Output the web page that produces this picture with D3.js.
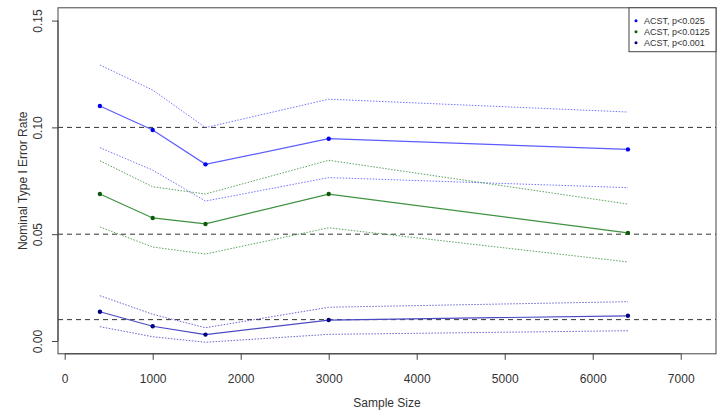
<!DOCTYPE html>
<html>
<head>
<meta charset="utf-8">
<script src="https://cdn.jsdelivr.net/npm/d3@7"></script>
<style>
  html, body { margin: 0; padding: 0; background: #fff; }
  svg text { font-family: "Liberation Sans", Arial, sans-serif; fill: #333; }
</style>
</head>
<body>
<svg id="chart" width="724" height="418"></svg>
<script>
// ---- data ----
const sampleSizes = [400, 1000, 1600, 3000, 6400];

const s025 = [0.110, 0.0988, 0.0827, 0.0947, 0.0897];
const s025Upper = [0.1292, 0.1175, 0.0999, 0.1132, 0.1072];
const s025Lower = [0.0905, 0.0800, 0.0655, 0.0765, 0.0718];

const s0125 = [0.0688, 0.0576, 0.0548, 0.0688, 0.0506];
const s0125Upper = [0.0844, 0.0722, 0.0688, 0.0846, 0.0641];
const s0125Lower = [0.0534, 0.0440, 0.0407, 0.0530, 0.0370];

const s001 = [0.0137, 0.0069, 0.0030, 0.0098, 0.0118];
const s001Upper = [0.0212, 0.0125, 0.0062, 0.0158, 0.0184];
const s001Lower = [0.0067, 0.0020, -0.0006, 0.0031, 0.0048];

const refLines = [0.10, 0.05, 0.01];
const xTicks = [0, 1000, 2000, 3000, 4000, 5000, 6000, 7000];
const yTicks = [0.00, 0.05, 0.10, 0.15];
const legendLabels = ["ACST, p<0.025", "ACST, p<0.0125", "ACST, p<0.001"];

// ---- layout ----
const svg = d3.select("#chart");
const pLeft = 58, pRight = 716, pTop = 7.8, pBottom = 353.8;

const x = d3.scaleLinear().domain([-76, 7401]).range([pLeft, pRight]);
const y = d3.scaleLinear().domain([-0.006, 0.156]).range([pBottom, pTop]);

const series = [
  { mid: s025, up: s025Upper, lo: s025Lower, line: "#5c5cff", dot: "#0000ee" },
  { mid: s0125, up: s0125Upper, lo: s0125Lower, line: "#3f923f", dot: "#0a5a0a" },
  { mid: s001, up: s001Upper, lo: s001Lower, line: "#4a4ac4", dot: "#000080" }
];

// reference lines
svg.selectAll("line.ref").data(refLines).enter().append("line")
  .attr("class", "ref")
  .attr("x1", pLeft).attr("x2", pRight)
  .attr("y1", d => y(d)).attr("y2", d => y(d))
  .attr("stroke", "#333").attr("stroke-width", 1)
  .attr("stroke-dasharray", "5,4");

const line = d3.line().x(d => x(d[0])).y(d => y(d[1]));
const zip = arr => sampleSizes.map((s, i) => [s, arr[i]]);

series.forEach(s => {
  [s.up, s.lo].forEach(b => {
    svg.append("path").attr("d", line(zip(b)))
      .attr("fill", "none").attr("stroke", s.line)
      .attr("stroke-width", 1).attr("stroke-dasharray", "1.5,1.5")
      .attr("opacity", 0.85);
  });
  svg.append("path").attr("d", line(zip(s.mid)))
    .attr("fill", "none").attr("stroke", s.line).attr("stroke-width", 1.2);
  svg.selectAll(null).data(zip(s.mid)).enter().append("circle")
    .attr("cx", d => x(d[0])).attr("cy", d => y(d[1]))
    .attr("r", 2.2).attr("fill", s.dot);
});

// box
svg.append("rect").attr("x", pLeft).attr("y", pTop)
  .attr("width", pRight - pLeft).attr("height", pBottom - pTop)
  .attr("fill", "none").attr("stroke", "#444").attr("stroke-width", 1);

// x axis
const xAxis = svg.append("g").attr("transform", `translate(0,${pBottom})`)
  .call(d3.axisBottom(x).tickValues(xTicks).tickFormat(d3.format("d")).tickSizeOuter(0).tickSize(6).tickPadding(15));
xAxis.select(".domain").attr("d", `M${x(0)},0H${x(7000)}`).attr("stroke", "#444");
xAxis.selectAll(".tick line").attr("stroke", "#444");
xAxis.selectAll("text").attr("font-size", 12).attr("fill", "#333")
  .style("font-family", "'Liberation Sans', Arial, sans-serif");

// y axis
const yAxis = svg.append("g").attr("transform", `translate(${pLeft},0)`)
  .call(d3.axisLeft(y).tickValues(yTicks).tickFormat(d3.format(".2f")).tickSizeOuter(0).tickSize(6).tickPadding(0));
yAxis.select(".domain").attr("d", `M0,${y(0)}V${y(0.15)}`).attr("stroke", "#444");
yAxis.selectAll(".tick line").attr("stroke", "#444");
yAxis.selectAll(".tick text")
  .attr("x", null).attr("dy", null)
  .attr("text-anchor", "middle")
  .attr("transform", "translate(-16,0) rotate(-90)")
  .attr("font-size", 12).attr("fill", "#333")
  .style("font-family", "'Liberation Sans', Arial, sans-serif");

// titles
svg.append("text").attr("x", (pLeft + pRight) / 2).attr("y", 407)
  .attr("text-anchor", "middle").attr("font-size", 12).text("Sample Size");
svg.append("text")
  .attr("transform", `translate(27,${(pTop + pBottom) / 2}) rotate(-90)`)
  .attr("text-anchor", "middle").attr("font-size", 12).text("Nominal Type I Error Rate");

// legend
const lg = svg.append("g");
lg.append("rect").attr("x", 629).attr("y", pTop).attr("width", pRight - 629).attr("height", 43.9)
  .attr("fill", "#fff").attr("stroke", "#444").attr("stroke-width", 1);
legendLabels.forEach((lab, i) => {
  const yy = 20.7 + i * 11;
  lg.append("circle").attr("cx", 636).attr("cy", yy).attr("r", 1.5).attr("fill", series[i].dot);
  lg.append("text").attr("x", 644).attr("y", yy + 3.3).attr("font-size", 9).text(lab);
});
</script>
</body>
</html>
